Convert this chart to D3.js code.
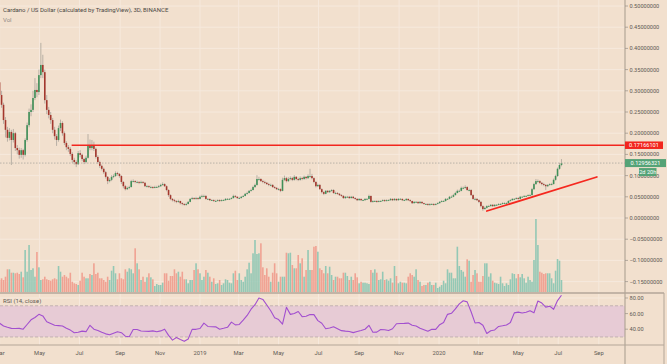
<!DOCTYPE html>
<html><head><meta charset="utf-8">
<script src="https://cdn.jsdelivr.net/npm/d3@7"></script>
<style>html,body{margin:0;padding:0;background:#f2e0ce;}svg{display:block;font-family:Roboto,"Open Sans",sans-serif;}</style>
</head><body><svg id="c" width="667" height="364"></svg>
<script>
// ---------- DATA ----------
const titleText = "Cardano / US Dollar (calculated by TradingView), 3D, BINANCE";
const volLabel = "Vol";
const rsiLabel = "RSI (14, close)";
const startDate = "2018-03-01";
const stepDays = 3;
const openFirst = 0.320;
const closes = [
.290,.267,.231,.208,.189,.203,.184,.200,.165,.160,
.149,.160,.149,.184,.219,.250,.255,.283,.302,.297,
.337,.361,.344,.278,.255,.243,.231,.208,.193,.184,
.212,.224,.200,.177,.167,.163,.151,.137,.132,.127,
.153,.149,.139,.132,.142,.170,.165,.170,.163,.144,
.132,.123,.116,.108,.097,.087,.090,.097,.099,.106,
.104,.099,.085,.075,.068,.071,.073,.087,.087,.085,
.085,.083,.085,.083,.075,.075,.073,.073,.071,.073,
.073,.075,.078,.080,.075,.066,.054,.045,.042,.040,
.038,.040,.035,.033,.031,.033,.038,.045,.047,.045,
.047,.045,.050,.052,.052,.045,.045,.042,.042,.040,
.040,.042,.040,.042,.042,.045,.045,.045,.047,.052,
.050,.047,.047,.050,.052,.057,.059,.064,.066,.073,
.078,.092,.092,.087,.085,.083,.080,.078,.078,.073,
.071,.068,.068,.064,.090,.094,.087,.092,.094,.090,
.097,.092,.090,.094,.092,.097,.094,.099,.099,.094,
.085,.075,.078,.068,.061,.057,.064,.061,.064,.066,
.059,.059,.057,.054,.052,.047,.050,.050,.047,.050,
.047,.045,.042,.045,.042,.042,.045,.045,.052,.038,
.040,.040,.038,.040,.040,.042,.040,.042,.042,.045,
.042,.045,.042,.045,.045,.042,.042,.045,.042,.040,
.035,.038,.038,.035,.038,.035,.033,.033,.031,.033,
.033,.031,.033,.035,.038,.040,.040,.045,.045,.050,
.050,.054,.059,.064,.064,.071,.071,.073,.066,.066,
.054,.045,.045,.042,.038,.028,.021,.024,.028,.028,
.031,.028,.031,.031,.033,.033,.035,.035,.035,.040,
.042,.045,.045,.047,.045,.050,.050,.052,.052,.054,
.054,.068,.080,.087,.087,.083,.080,.078,.075,.078,
.080,.080,.090,.099,.116,.125,0.12956321];
const highs = [
.335,.300,.272,.238,.215,.212,.208,.210,.203,.172,
.166,.165,.163,.188,.225,.258,.268,.300,.330,.318,
.350,.413,.385,.350,.290,.262,.250,.236,.215,.198,
.218,.232,.228,.204,.181,.172,.167,.155,.142,.136,
.158,.160,.152,.142,.147,.198,.185,.184,.180,.166,
.148,.135,.126,.119,.111,.099,.094,.101,.103,.110,
.109,.106,.101,.087,.078,.074,.076,.090,.091,.089,
.088,.087,.088,.087,.085,.078,.077,.076,.075,.076,
.076,.078,.081,.084,.082,.077,.068,.056,.047,.045,
.042,.043,.041,.037,.035,.036,.040,.047,.050,.049,
.050,.049,.053,.055,.055,.054,.047,.046,.044,.044,
.043,.044,.044,.044,.044,.047,.047,.047,.049,.055,
.054,.051,.050,.052,.054,.059,.062,.066,.069,.076,
.081,.101,.097,.094,.090,.088,.085,.083,.081,.080,
.075,.073,.071,.070,.095,.100,.097,.096,.098,.097,
.101,.099,.095,.098,.097,.100,.099,.103,.116,.104,
.096,.087,.081,.080,.070,.063,.066,.066,.066,.068,
.068,.062,.061,.059,.056,.054,.052,.052,.052,.052,
.052,.049,.047,.047,.046,.044,.047,.047,.055,.053,
.042,.042,.042,.042,.042,.044,.044,.044,.044,.047,
.046,.047,.046,.047,.047,.046,.044,.047,.046,.044,
.041,.040,.040,.039,.040,.039,.036,.035,.035,.035,
.035,.035,.035,.037,.040,.042,.042,.047,.047,.052,
.053,.057,.062,.067,.067,.074,.074,.077,.075,.069,
.068,.056,.048,.047,.044,.040,.030,.027,.030,.031,
.033,.033,.033,.033,.035,.035,.037,.037,.037,.042,
.044,.047,.047,.049,.049,.052,.052,.054,.054,.056,
.057,.071,.083,.092,.091,.089,.085,.083,.080,.080,
.082,.083,.093,.102,.119,.130,.139];
const lows = [
.285,.260,.222,.190,.180,.183,.125,.178,.158,.150,
.140,.142,.138,.145,.180,.214,.240,.250,.278,.285,
.290,.330,.330,.270,.245,.235,.222,.200,.185,.170,
.180,.205,.194,.172,.160,.156,.146,.130,.126,.120,
.125,.143,.134,.127,.129,.140,.160,.160,.158,.140,
.128,.118,.112,.104,.093,.080,.084,.087,.094,.097,
.100,.095,.080,.070,.065,.066,.068,.072,.084,.082,
.082,.080,.081,.081,.073,.072,.071,.070,.069,.070,
.071,.071,.073,.076,.073,.063,.050,.042,.039,.037,
.035,.036,.032,.030,.029,.029,.032,.037,.043,.043,
.043,.043,.044,.048,.049,.043,.043,.040,.040,.038,
.038,.039,.038,.039,.040,.041,.043,.043,.044,.046,
.048,.045,.045,.046,.049,.051,.055,.058,.062,.065,
.071,.076,.088,.085,.082,.080,.078,.075,.075,.071,
.069,.066,.065,.061,.063,.087,.084,.085,.089,.087,
.088,.089,.087,.088,.089,.090,.091,.092,.095,.091,
.082,.072,.073,.066,.058,.054,.056,.059,.059,.062,
.057,.056,.055,.052,.050,.045,.045,.048,.045,.046,
.045,.043,.040,.041,.040,.040,.041,.043,.044,.036,
.036,.038,.036,.037,.038,.039,.038,.039,.040,.041,
.040,.041,.040,.041,.043,.040,.040,.041,.040,.038,
.033,.034,.036,.033,.034,.033,.031,.031,.029,.029,
.031,.029,.030,.032,.034,.037,.038,.039,.043,.044,
.048,.049,.053,.058,.061,.063,.068,.069,.064,.063,
.052,.043,.042,.040,.035,.025,.017,.020,.022,.026,
.027,.026,.027,.029,.030,.031,.032,.033,.033,.034,
.039,.041,.043,.044,.043,.044,.048,.049,.050,.051,
.052,.053,.066,.078,.083,.080,.077,.075,.066,.073,
.076,.077,.079,.088,.097,.114,.122];
const volumes = [
12,13.7,12,15.3,22.7,22.7,19.3,19.3,18.7,19.3,
18,20.3,14.7,42,20.3,47,22,23.7,15.3,40,
24.7,12,12.7,15.3,12.7,12,11.3,12.7,13.7,12.7,
26,20.3,15.3,17,15.3,13.7,19.3,10.3,8.7,8,
7,11.3,19.3,15.3,13.7,13.7,18,17,28.7,18,
19.3,13.7,13.7,12,10.3,15.3,12,21.3,26,18.7,
12.7,18.7,13.7,12.7,22.7,20.3,23.7,22.7,18.7,43.7,
28.7,22.7,12,15.3,10.3,14.7,18.7,14.7,12.7,6,
8,7,7,9.3,18.7,18.7,11.3,16,16,22.7,
18.7,20.3,15.3,20.3,12.7,12.7,8.7,12,12,22,
28.7,22.7,18.7,12,15.3,22,19.3,15.3,10.3,13.7,
8,8.7,12,7,8.7,12.7,12,9.3,8.7,18.7,
21.3,12,18.7,12,10.3,15.3,22.7,29.3,18.7,38.7,
52,38,38.7,48.7,24.7,17,23.7,15.3,10.3,19.3,
28.7,18.7,10.3,15.3,15.3,15.3,39.3,38.7,39.3,27,
23.7,23.7,37,28.7,33.7,15.3,22,42,22,22,
45.3,46,40.3,23.7,22,18.7,26,18.7,25.3,17,
12,15.3,15.3,13.7,13.7,19.3,19.3,16,12,15.3,
12,18.7,14.7,8.7,10.3,9.3,9.3,8.7,8,22,
19.3,22.7,19.3,12,12.7,20.3,12,12.7,11.3,13.7,
9.3,26,16,8.7,10.3,9.3,9.3,8.7,15.3,18.7,
17,15.3,22.7,12,10.3,6,7,7,9.3,10.3,
7,7,9.3,4,5.3,7,11.3,8.7,22.7,19.3,
19.3,13.7,13.7,45.3,26,22,20.3,15.3,32.7,31.3,
10.3,17,22,18.7,10.3,10.3,16,28.7,28.7,15.3,
18.7,11.3,9.3,8.7,8,15.3,8.7,6,8.7,7,
12.7,18.7,18,13.7,18,14.7,18,13.7,9.3,15.3,
12,10.3,32,73,47,20.3,19.3,18,18.7,18.7,
18.7,13.7,8.7,21.3,33,31.3,12];
const rsiEvery = 2; // one RSI reading per 2 candles
const rsiValues = [
47.6,44,42.4,41,40.8,41,40,46,52,55,
59,57,49.6,47.3,45,44.5,44,41.2,38.8,35.5,
36,37.5,36.8,45,40,38.3,36,34,32.8,34.8,
36.8,35.5,31,30.2,39.5,39.6,37.6,37.4,37.2,37.8,
36.8,37.8,40,32,26,29.3,26.7,24.4,27.5,39.7,
39.8,40.8,47.7,43.5,43.2,43,40,41.1,42.4,49,
45.5,46,51.5,57.6,65.6,71.4,80,78.2,71,63.6,
54.7,52.3,46.5,68,59,60.2,62.7,56,56.6,58.8,
58.6,51,47.6,40.6,41.5,43.1,40.6,38.1,37.5,37.1,
35.6,36.9,38.3,39.9,45,36,36.2,39.5,39.2,38.2,
40.5,47,47.2,47.4,47.8,45,44,41.2,39.3,37.3,
39.8,39.8,45.8,48.5,59,60.4,66,72.5,76.4,75,
62.4,48,48.5,45,34.5,38,39,43.5,44.3,45.3,
48.5,60.9,61.9,60.8,61.8,63.7,61,76.2,73.5,68.3,
69.5,65.5,76.7,83.5];
const priceTicks = [0.5,0.45,0.4,0.35,0.3,0.25,0.2,0.15,0.1,0.05,0,-0.05,-0.1,-0.15];
const rsiTicks = [80,60,40];
const rsiBand = [30,70];
const timeTickDates = ["2018-03-01","2018-05-01","2018-07-01","2018-09-01","2018-11-01","2019-01-01","2019-03-01","2019-05-01","2019-07-01","2019-09-01","2019-11-01","2020-01-01","2020-03-01","2020-05-01","2020-07-01","2020-09-01"];
const timeTickLabels = ["Mar","May","Jul","Sep","Nov","2019","Mar","May","Jul","Sep","Nov","2020","Mar","May","Jul","Sep"];
const levelPrice = 0.17166101;
const levelStart = "2018-06-19";
const trendDates = ["2020-03-14","2020-08-29"];
const trendPrices = [0.0165, 0.0967];
const timerLabel = "2d 20h";

// ---------- CHART ----------
const svg = d3.select("#c");
const parse = d3.utcParse("%Y-%m-%d");
const t0 = parse(startDate);
const dates = closes.map((_, i) => d3.utcDay.offset(t0, i * stepDays));
const opens = closes.map((c, i) => i === 0 ? openFirst : closes[i - 1]);

const axisX = 625, mainBottom = 292, sep1 = 293, sep2 = 345;
const x = d3.scaleUtc().domain([parse("2018-03-01"), parse("2020-09-01")]).range([-0.4, 598.8]);
const y = d3.scaleLinear().domain([-0.15, 0.5]).range([281.6, 6]);
const yv = d3.scaleLinear().domain([0, 73]).range([mainBottom, 219]);
const yr = d3.scaleLinear().domain([19.7, 86.4]).range([sep2, sep1]);

const BG = "#f2e0ce", GRID = "#f6e9dd", AX = "#b3a698", TXT = "#5e5a55";
svg.append("rect").attr("width", 667).attr("height", 364).attr("fill", BG);

const defs = svg.append("defs");
defs.append("clipPath").attr("id", "cm").append("rect").attr("x", 0).attr("y", 0).attr("width", axisX).attr("height", mainBottom);
defs.append("clipPath").attr("id", "cr").append("rect").attr("x", 0).attr("y", sep1).attr("width", axisX).attr("height", sep2 - sep1);

// grid
const tDates = timeTickDates.map(parse);
svg.append("g").selectAll("line").data(tDates).join("line")
  .attr("x1", d => x(d)).attr("x2", d => x(d)).attr("y1", 0).attr("y2", sep2)
  .attr("stroke", GRID).attr("stroke-width", 1);
svg.append("g").selectAll("line").data(priceTicks).join("line")
  .attr("x1", 0).attr("x2", axisX).attr("y1", d => y(d)).attr("y2", d => y(d))
  .attr("stroke", GRID).attr("stroke-width", 1);
svg.append("g").selectAll("line").data(rsiTicks).join("line")
  .attr("x1", 0).attr("x2", axisX).attr("y1", d => yr(d)).attr("y2", d => yr(d))
  .attr("stroke", GRID).attr("stroke-width", 1);

const main = svg.append("g").attr("clip-path", "url(#cm)");
// volume
main.append("g").selectAll("rect").data(volumes).join("rect")
  .attr("x", (d, i) => x(dates[i]) - 0.8).attr("width", 1.6)
  .attr("y", d => yv(d)).attr("height", d => mainBottom - yv(d))
  .attr("fill", (d, i) => closes[i] >= opens[i] ? "#93c8b5" : "#f0a293");

// candles
const idx = d3.range(closes.length);
main.append("g").selectAll("line").data(idx).join("line")
  .attr("x1", i => x(dates[i])).attr("x2", i => x(dates[i]))
  .attr("y1", i => y(highs[i])).attr("y2", i => y(lows[i]))
  .attr("stroke", "#a9a39b").attr("stroke-width", 0.8);
main.append("g").selectAll("rect").data(idx).join("rect")
  .attr("x", i => x(dates[i]) - 0.8).attr("width", 1.6)
  .attr("y", i => y(Math.max(opens[i], closes[i])))
  .attr("height", i => Math.max(0.8, Math.abs(y(opens[i]) - y(closes[i]))))
  .attr("fill", i => closes[i] >= opens[i] ? "#3f8f58" : "#a3372d");

// last price dotted line
const lastClose = closes[closes.length - 1];
main.append("line").attr("x1", 0).attr("x2", axisX).attr("y1", y(lastClose)).attr("y2", y(lastClose))
  .attr("stroke", "#aaa69c").attr("stroke-width", 0.8).attr("stroke-dasharray", "1.5,1.5");
// horizontal level
main.append("line").attr("x1", x(parse(levelStart))).attr("x2", axisX)
  .attr("y1", y(levelPrice)).attr("y2", y(levelPrice))
  .attr("stroke", "#f2261e").attr("stroke-width", 1.4);
// trend line
main.append("line").attr("x1", x(parse(trendDates[0]))).attr("x2", x(parse(trendDates[1])))
  .attr("y1", y(trendPrices[0])).attr("y2", y(trendPrices[1]))
  .attr("stroke", "#f5281f").attr("stroke-width", 1.8).attr("stroke-linecap", "round");

// RSI pane
const rsiG = svg.append("g").attr("clip-path", "url(#cr)");
rsiG.append("rect").attr("x", 0).attr("width", axisX)
  .attr("y", yr(rsiBand[1])).attr("height", yr(rsiBand[0]) - yr(rsiBand[1]))
  .attr("fill", "#e7cbd5");
rsiBand.forEach(v => rsiG.append("line").attr("x1", 0).attr("x2", axisX).attr("y1", yr(v)).attr("y2", yr(v))
  .attr("stroke", "#b8a8a8").attr("stroke-width", 0.8).attr("stroke-dasharray", "3,2"));
const rsiLine = d3.line().x((d, k) => x(dates[k * rsiEvery])).y(d => yr(d));
rsiG.append("path").attr("d", rsiLine(rsiValues)).attr("fill", "none")
  .attr("stroke", "#a24fcf").attr("stroke-width", 1.1).attr("stroke-linejoin", "round");

// separators / axis lines
svg.append("line").attr("x1", 0).attr("x2", 664).attr("y1", sep1).attr("y2", sep1).attr("stroke", AX).attr("stroke-width", 1.6);
svg.append("line").attr("x1", 0).attr("x2", 664).attr("y1", sep2).attr("y2", sep2).attr("stroke", AX).attr("stroke-width", 1.2);
svg.append("line").attr("x1", axisX).attr("x2", axisX).attr("y1", 0).attr("y2", 364).attr("stroke", AX).attr("stroke-width", 1.2);
svg.append("line").attr("x1", 664).attr("x2", 664).attr("y1", sep1).attr("y2", 364).attr("stroke", AX).attr("stroke-width", 1);

// price axis labels
const fmtP = v => (v < 0 ? "\u2212" : "") + Math.abs(v).toFixed(8);
const pa = svg.append("g").attr("font-size", 5.6).attr("fill", TXT);
priceTicks.forEach(v => {
  pa.append("line").attr("x1", axisX).attr("x2", axisX + 3).attr("y1", y(v)).attr("y2", y(v)).attr("stroke", "#9a9088").attr("stroke-width", 0.7);
  pa.append("text").attr("x", 629.5).attr("y", y(v)).attr("dy", "0.35em").text(fmtP(v));
});
rsiTicks.forEach(v => {
  pa.append("line").attr("x1", axisX).attr("x2", axisX + 3).attr("y1", yr(v)).attr("y2", yr(v)).attr("stroke", "#9a9088").attr("stroke-width", 0.7);
  pa.append("text").attr("x", 629.5).attr("y", yr(v)).attr("dy", "0.35em").text(v.toFixed(2));
});

// price boxes
function box(yc, w, h, fill, label, x0) {
  svg.append("rect").attr("x", x0).attr("y", yc - h / 2).attr("width", w).attr("height", h).attr("fill", fill);
  svg.append("text").attr("x", x0 + w / 2).attr("y", yc).attr("dy", "0.35em").attr("text-anchor", "middle")
    .attr("font-size", 5.6).attr("fill", "#fff").text(label);
}
box(y(levelPrice), 38, 7.5, "#f2261e", levelPrice.toFixed(8), axisX);
box(y(lastClose), 41, 8, "#55a377", lastClose.toFixed(8), axisX);
box(y(lastClose) + 9, 17.5, 8, "#55a377", timerLabel, 639);

// time axis
svg.append("g").selectAll("text").data(tDates).join("text")
  .attr("x", d => x(d)).attr("y", 354.5).attr("text-anchor", "middle")
  .attr("font-size", 5.8).attr("fill", TXT).text((d, i) => timeTickLabels[i]);

// titles
svg.append("text").attr("x", 3).attr("y", 12).attr("font-size", 6).attr("fill", "#4a4744").text(titleText);
svg.append("text").attr("x", 3).attr("y", 21.5).attr("font-size", 6).attr("fill", "#8e8a85").text(volLabel);
svg.append("text").attr("x", 3).attr("y", 303).attr("font-size", 6).attr("fill", "#5e5a55").text(rsiLabel);
</script>
</body></html>
